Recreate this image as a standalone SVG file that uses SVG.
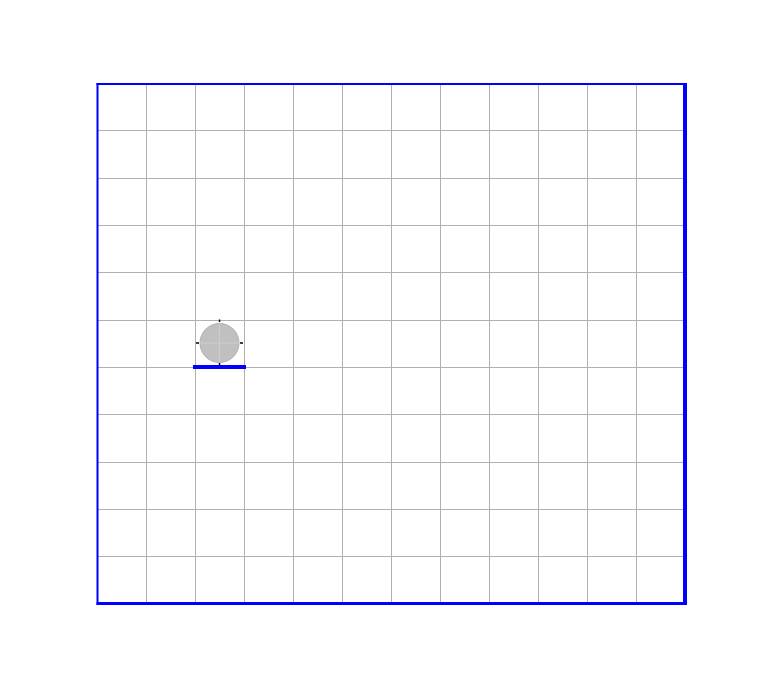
<svg xmlns="http://www.w3.org/2000/svg" width="763" height="680" viewBox="0 0 763 680">
<style>
.grid line{stroke:#b0b0b0;stroke-width:1}
.frame line{stroke:#0000ff}
.tick{stroke:#000;stroke-width:1.5}
</style>
<rect width="763" height="680" fill="#fff"/>
<g id="grid" class="grid">
<line x1="146.5" y1="84" x2="146.5" y2="603"/>
<line x1="195.5" y1="84" x2="195.5" y2="603"/>
<line x1="244.5" y1="84" x2="244.5" y2="603"/>
<line x1="293.5" y1="84" x2="293.5" y2="603"/>
<line x1="342.5" y1="84" x2="342.5" y2="603"/>
<line x1="391.5" y1="84" x2="391.5" y2="603"/>
<line x1="440.5" y1="84" x2="440.5" y2="603"/>
<line x1="489.5" y1="84" x2="489.5" y2="603"/>
<line x1="538.5" y1="84" x2="538.5" y2="603"/>
<line x1="587.5" y1="84" x2="587.5" y2="603"/>
<line x1="636.5" y1="84" x2="636.5" y2="603"/>
<line x1="97" y1="130.5" x2="685" y2="130.5"/>
<line x1="97" y1="178.5" x2="685" y2="178.5"/>
<line x1="97" y1="225.5" x2="685" y2="225.5"/>
<line x1="97" y1="272.5" x2="685" y2="272.5"/>
<line x1="97" y1="320.5" x2="685" y2="320.5"/>
<line x1="97" y1="367.5" x2="685" y2="367.5"/>
<line x1="97" y1="414.5" x2="685" y2="414.5"/>
<line x1="97" y1="462.5" x2="685" y2="462.5"/>
<line x1="97" y1="509.5" x2="685" y2="509.5"/>
<line x1="97" y1="556.5" x2="685" y2="556.5"/>
</g>
<g id="frame" class="frame">
<line x1="97.5" y1="83" x2="97.5" y2="605" stroke-width="2"/>
<line x1="96.5" y1="84" x2="687" y2="84" stroke-width="2"/>
<line x1="685" y1="83" x2="685" y2="605" stroke-width="4"/>
<line x1="96.5" y1="603.5" x2="687" y2="603.5" stroke-width="3"/>
</g>
<g id="ball">
<circle cx="219.5" cy="343" r="19.5" fill="#c0c0c0" stroke="#b0b0b0" stroke-width="1"/>
<line x1="219.5" y1="324" x2="219.5" y2="362" stroke="#cdcdcd" stroke-width="1"/>
<line x1="200" y1="343" x2="239" y2="343" stroke="#cdcdcd" stroke-width="1"/>
<line class="tick" x1="219.5" y1="319.5" x2="219.5" y2="322"/>
<line class="tick" x1="196" y1="343" x2="199" y2="343"/>
<line class="tick" x1="240" y1="343" x2="243" y2="343"/>
<line class="tick" x1="219.5" y1="363" x2="219.5" y2="365.5"/>
</g>
<rect id="platform" x="193" y="365" width="53" height="4" fill="#0000ff"/>
</svg>
